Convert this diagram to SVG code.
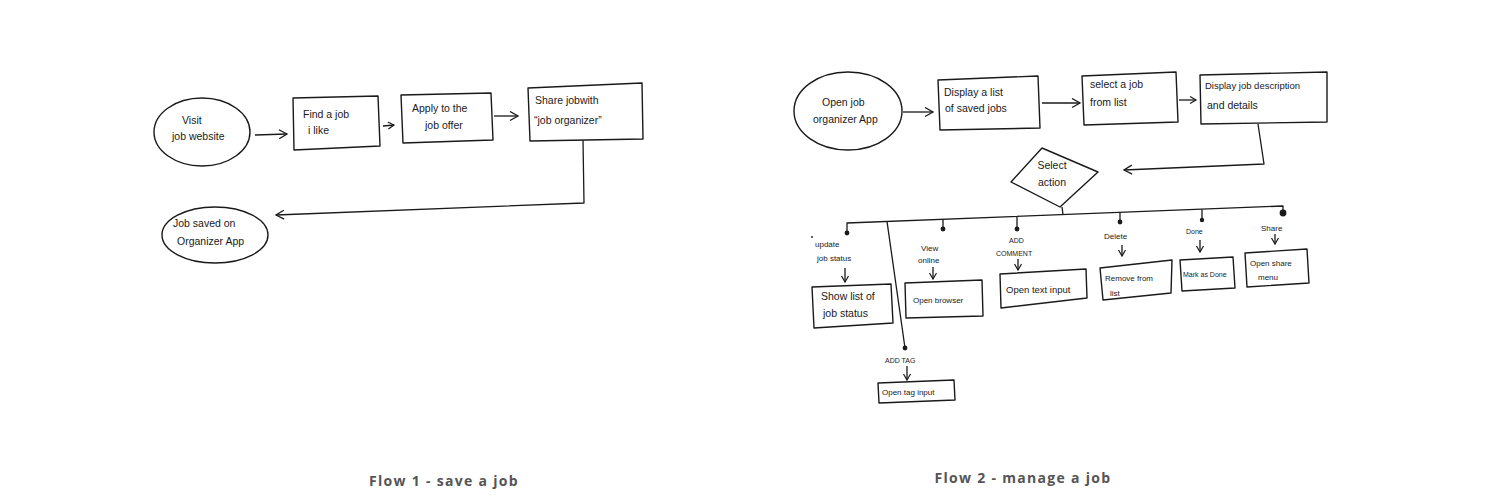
<svg xmlns="http://www.w3.org/2000/svg" width="1500" height="500" viewBox="0 0 1500 500">
<defs>
<style>
.n{fill:#fff;stroke:#1a1a1a;stroke-width:1.4;stroke-linejoin:round}
.t{font-family:"Liberation Sans",Arial,sans-serif;font-size:10.5px;fill:#1a1a1a}
.s{font-size:8px}
.xs{font-size:7px}
.c{fill:none;stroke:#1a1a1a;stroke-width:1.3;stroke-linejoin:round}
.a{marker-end:url(#arr)}
.as{marker-end:url(#arrs)}
.dot{fill:#1a1a1a}
.title{font-family:"Open Sans","Liberation Sans",sans-serif;font-weight:bold;font-size:14px;letter-spacing:1.3px;fill:#555}
</style>
<marker id="arr" markerUnits="userSpaceOnUse" markerWidth="12" markerHeight="12" refX="9" refY="5" orient="auto">
<path d="M1,0.5 L9,5 L1,9.5" fill="none" stroke="#1a1a1a" stroke-width="1.3"/>
</marker>
<marker id="arrs" markerUnits="userSpaceOnUse" markerWidth="10" markerHeight="10" refX="7" refY="4" orient="auto">
<path d="M1,0.5 L7,4 L1,7.5" fill="none" stroke="#1a1a1a" stroke-width="1.2"/>
</marker>
</defs>
<rect width="1500" height="500" fill="#fff"/>

<g id="connectors">
<path class="c a" d="M255,135 L287,134"/>
<path class="c as" d="M383,126 L394,125"/>
<path class="c a" d="M494,116 L518,116"/>
<path class="c a" d="M583,140 L584,203 L276,215"/>
<path class="c a" d="M903,112 L933,112"/>
<path class="c a" d="M1042,103 L1080,103"/>
<path class="c as" d="M1179,100 L1196,100"/>
<path class="c a" d="M1258,124 L1264,164 L1124,170"/>
<path class="c" d="M1062,207 L1063,214.6"/>
<path class="c" d="M847,233 L847,223 L1283,206 L1283,213"/>
<path class="c" d="M887,221.4 L905,348"/>
<path class="c" d="M943,219.3 L943,229"/>
<path class="c" d="M1017,216.4 L1017,229"/>
<path class="c" d="M1120,212.4 L1120,222"/>
<path class="c" d="M1202,209.2 L1202,220"/>
<circle class="dot" cx="847" cy="233" r="2.4"/>
<circle class="dot" cx="943" cy="229" r="2.4"/>
<circle class="dot" cx="1017" cy="229" r="2.4"/>
<circle class="dot" cx="1120" cy="222" r="2.4"/>
<circle class="dot" cx="1202" cy="220" r="2.2"/>
<circle class="dot" cx="1283" cy="213" r="3.4"/>
<circle class="dot" cx="905" cy="348" r="2.4"/>
<path class="c as" d="M845,268 L845,282"/>
<path class="c as" d="M933,267 L933,279"/>
<path class="c as" d="M1018,259 L1018,270"/>
<path class="c as" d="M1122,245 L1122,256"/>
<path class="c as" d="M1200,240 L1200,252"/>
<path class="c as" d="M1275,234 L1275,244"/>
<path class="c as" d="M907,366 L907,380"/>
</g>

<g id="visit">
<ellipse class="n" cx="202" cy="132" rx="48" ry="34"/>
<text class="t" x="182" y="124">Visit</text>
<text class="t" x="172" y="140">job website</text>
</g>
<g id="find">
<polygon class="n" points="293,98 378,96 380,146 294,150"/>
<text class="t" x="303" y="118">Find a job</text>
<text class="t" x="308" y="134">i like</text>
</g>
<g id="apply">
<polygon class="n" points="401,95 491,93 493,140 403,143"/>
<text class="t" x="412" y="112">Apply to the</text>
<text class="t" x="425" y="129">job offer</text>
</g>
<g id="share">
<polygon class="n" points="528,88 642,83 643,139 530,141"/>
<text class="t" x="535" y="104">Share jobwith</text>
<text class="t" x="534" y="124">“job organizer”</text>
</g>
<g id="saved">
<ellipse class="n" cx="215" cy="235" rx="53" ry="28"/>
<text class="t" x="173" y="227">Job saved on</text>
<text class="t" x="177" y="245">Organizer App</text>
</g>

<g id="open">
<ellipse class="n" cx="848" cy="111" rx="54" ry="39"/>
<text class="t" x="822" y="106">Open job</text>
<text class="t" x="813" y="123">organizer App</text>
</g>
<g id="displaylist">
<polygon class="n" points="938,80 1038,76 1040,128 940,130"/>
<text class="t" x="944" y="96">Display a list</text>
<text class="t" x="945" y="112">of saved jobs</text>
</g>
<g id="selectjob">
<polygon class="n" points="1082,76 1176,72 1178,122 1084,125"/>
<text class="t" x="1090" y="88">select a job</text>
<text class="t" x="1090" y="106">from list</text>
</g>
<g id="details">
<polygon class="n" points="1200,75 1327,72 1327,122 1201,124"/>
<text class="t" x="1205" y="89" style="font-size:9.5px">Display job description</text>
<text class="t" x="1207" y="109">and details</text>
</g>
<g id="selectaction">
<polygon class="n" points="1042,148 1098,172 1060,207 1011,182"/>
<text class="t" x="1052" y="169" text-anchor="middle">Select</text>
<text class="t" x="1052" y="186" text-anchor="middle">action</text>
</g>

<g id="update">
<circle class="dot" cx="812" cy="237" r="0.9"/>
<text class="t s" x="815" y="247">update</text>
<text class="t s" x="817" y="261">job status</text>
</g>
<g id="showlist">
<polygon class="n" points="812,287 891,284 893,323 814,328"/>
<text class="t" x="821" y="300">Show list of</text>
<text class="t" x="823" y="317">job status</text>
</g>
<g id="viewonline">
<text class="t s" x="921" y="251">View</text>
<text class="t s" x="918" y="263">online</text>
</g>
<g id="openbrowser">
<polygon class="n" points="905,283 982,280 983,316 906,318"/>
<text class="t s" x="913" y="303">Open browser</text>
</g>
<g id="addcomment">
<text class="t xs" x="1009" y="243">ADD</text>
<text class="t xs" x="996" y="256">COMMENT</text>
</g>
<g id="opentext">
<polygon class="n" points="1000,274 1086,269 1087,298 1001,308"/>
<text class="t" x="1006" y="293" style="font-size:9.5px">Open text input</text>
</g>
<g id="delete">
<text class="t s" x="1104" y="239">Delete</text>
</g>
<g id="remove">
<polygon class="n" points="1100,268 1172,260 1171,293 1103,300"/>
<text class="t s" x="1105" y="281">Remove from</text>
<text class="t s" x="1110" y="296">list</text>
</g>
<g id="done">
<text class="t xs" x="1186" y="234">Done</text>
</g>
<g id="markdone">
<polygon class="n" points="1180,260 1233,257 1235,288 1182,291"/>
<text class="t xs" x="1183" y="277">Mark as Done</text>
</g>
<g id="sharelabel">
<text class="t s" x="1261" y="231">Share</text>
</g>
<g id="opensharemenu">
<polygon class="n" points="1245,253 1307,249 1309,283 1247,287"/>
<text class="t s" x="1250" y="266">Open share</text>
<text class="t s" x="1258" y="280">menu</text>
</g>
<g id="addtag">
<text class="t xs" x="885" y="363">ADD TAG</text>
</g>
<g id="opentag">
<polygon class="n" points="878,383 954,380 955,400 879,403"/>
<text class="t s" x="882" y="395">Open tag input</text>
</g>

<text class="title" x="444" y="486" text-anchor="middle">Flow 1 - save a job</text>
<text class="title" x="1023" y="483" text-anchor="middle">Flow 2 - manage a job</text>
</svg>
